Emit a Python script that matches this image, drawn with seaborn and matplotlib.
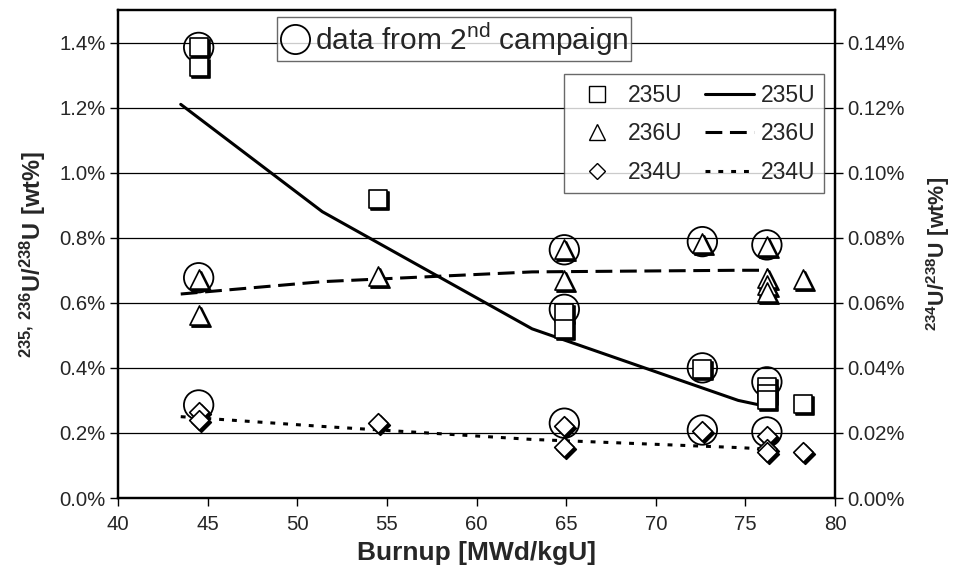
import numpy as np
import pandas as pd
import matplotlib
matplotlib.use("Agg")
import matplotlib.pyplot as plt
import matplotlib.transforms as mtransforms
from matplotlib.lines import Line2D
from matplotlib.ticker import FuncFormatter, MultipleLocator
import seaborn as sns

# ---------------- data ----------------
# 235U measured (left axis, wt%)
bu_235 = [44.5, 44.5, 54.5, 64.9, 64.9, 72.6, 76.2, 76.2, 76.2, 78.2]
u235 = [1.385, 1.325, 0.92, 0.57, 0.52, 0.395, 0.34, 0.32, 0.30, 0.29]
# 236U measured (left axis, wt%)
bu_236 = [44.5, 44.5, 54.5, 64.9, 64.9, 72.6, 76.2, 76.2, 76.2, 76.2, 78.2]
u236 = [0.672, 0.563, 0.683, 0.765, 0.67, 0.785, 0.775, 0.677, 0.655, 0.634, 0.674]
# 234U measured (right axis, wt%)
bu_234 = [44.5, 44.5, 54.5, 64.9, 64.9, 72.6, 76.2, 76.2, 76.2, 78.2]
u234 = [0.0265, 0.024, 0.023, 0.022, 0.0157, 0.0205, 0.019, 0.015, 0.014, 0.014]

# 2nd campaign (circled) points
bu_2nd_235 = [44.5, 64.9, 72.6, 76.2]
u235_2nd = [1.385, 0.58, 0.40, 0.357]
bu_2nd_236 = [44.5, 64.9, 72.6, 76.2]
u236_2nd = [0.677, 0.763, 0.788, 0.778]
bu_2nd_234 = [44.5, 64.9, 72.6, 76.2]
u234_2nd = [0.0286, 0.023, 0.0209, 0.0203]

# calculated curves
bu_calc = [43.5, 51.4, 63.1, 74.6, 76.3]
calc_235 = [1.21, 0.88, 0.52, 0.30, 0.28]
calc_236 = [0.627, 0.665, 0.695, 0.70, 0.70]
calc_234 = [0.025, 0.022, 0.018, 0.0155, 0.015]

# ---------------- style ----------------
sns.set_style("ticks")
plt.rcParams["font.family"] = ["Liberation Sans", "DejaVu Sans"]
plt.rcParams["mathtext.fontset"] = "custom"
plt.rcParams["mathtext.rm"] = "Liberation Sans"
plt.rcParams["mathtext.bf"] = "Liberation Sans:bold"

fig = plt.figure(figsize=(9.54, 5.66), dpi=100)
ax = fig.add_axes([118 / 954, 1 - 498 / 566, (835 - 118) / 954, (498 - 10) / 566])
ax2 = ax.twinx()

# grid
for v in np.arange(0.2, 1.41, 0.2):
    ax.axhline(v, color="black", lw=0.9, zorder=0)

shadow = mtransforms.offset_copy(ax.transData, fig=fig, x=2, y=-2, units="dots")
shadow2 = mtransforms.offset_copy(ax2.transData, fig=fig, x=2, y=-2, units="dots")

# circles (2nd campaign)
for a, xs, ys in [(ax, bu_2nd_235, u235_2nd), (ax, bu_2nd_236, u236_2nd), (ax2, bu_2nd_234, u234_2nd)]:
    sns.scatterplot(x=xs, y=ys, ax=a, marker="o", s=450, facecolor="none",
                    edgecolor="black", linewidth=1.3, zorder=3)

def shadowed(a, tr, xs, ys, marker, s):
    sns.scatterplot(x=xs, y=ys, ax=a, marker=marker, s=s, color="black",
                    edgecolor="black", linewidth=1.2, transform=tr, zorder=4)
    sns.scatterplot(x=xs, y=ys, ax=a, marker=marker, s=s, color="white",
                    edgecolor="black", linewidth=1.2, zorder=5)

shadowed(ax, shadow, bu_235, u235, "s", 180)
shadowed(ax, shadow, bu_236, u236, "^", 190)
shadowed(ax2, shadow2, bu_234, u234, "D", 100)

# curves
sns.lineplot(x=bu_calc, y=calc_235, ax=ax, color="black", lw=2.2, zorder=2)
sns.lineplot(x=bu_calc, y=calc_236, ax=ax, color="black", lw=2.2, zorder=2,
             linestyle=(0, (5.5, 2.5)))
sns.lineplot(x=bu_calc, y=calc_234, ax=ax2, color="black", lw=2.2, zorder=2,
             linestyle=(0, (1.6, 2.6)))

ax.set_xlim(40, 80)
ax.set_ylim(0, 1.5)
ax2.set_ylim(0, 0.15)

# ticks
ax.xaxis.set_major_locator(MultipleLocator(5))
ax.set_yticks(np.arange(0, 1.41, 0.2))
ax2.set_yticks(np.arange(0, 0.141, 0.02))
ax.yaxis.set_major_formatter(FuncFormatter(lambda v, p: f"{v:.1f}%"))
ax2.yaxis.set_major_formatter(FuncFormatter(lambda v, p: f"{v:.2f}%"))
for a in (ax, ax2):
    a.tick_params(direction="out", length=6, width=1, labelsize=14.7, color="black", pad=3)
    for sp in a.spines.values():
        sp.set_color("black")
        sp.set_linewidth(1.6)
ax.tick_params(axis="x", pad=6)

ax.set_xlabel("Burnup [MWd/kgU]", fontsize=19, fontweight="bold", labelpad=5)
ax.set_ylabel(r"$\mathbf{^{235,\,236}U/^{238}U\ [wt\%]}$", fontsize=17, labelpad=8)
ax2.set_ylabel(r"$\mathbf{^{234}U/^{238}U\ [wt\%]}$", fontsize=15.5, labelpad=14)

# legends
h_circ = [Line2D([], [], marker="o", ls="none", mfc="none", mec="black", ms=21, mew=1.3)]
leg1 = ax2.legend(h_circ, [r"data from 2$^{\rm nd}$ campaign"], loc="upper left",
                  bbox_to_anchor=(0.222, 0.985), fontsize=21.5, frameon=True,
                  fancybox=False, edgecolor="#444444", handletextpad=0.15,
                  borderpad=0.1, handlelength=1.0, borderaxespad=0)
leg1.get_frame().set_linewidth(1.0)
ax2.add_artist(leg1)

handles = [
    Line2D([], [], marker="s", ls="none", mfc="white", mec="black", ms=11, mew=1.0),
    Line2D([], [], marker="^", ls="none", mfc="white", mec="black", ms=11, mew=1.0),
    Line2D([], [], marker="D", ls="none", mfc="white", mec="black", ms=8, mew=1.0),
    Line2D([], [], color="black", lw=2.2),
    Line2D([], [], color="black", lw=2.2, linestyle=(0, (5.5, 2.5))),
    Line2D([], [], color="black", lw=2.2, linestyle=(0, (1.6, 2.6))),
]
labels = ["235U", "236U", "234U", "235U", "236U", "234U"]
leg2 = ax2.legend(handles, labels, ncol=2, loc="upper right",
                  bbox_to_anchor=(0.985, 0.868), fontsize=16.5, frameon=True,
                  fancybox=False, edgecolor="#444444", handlelength=2.1,
                  columnspacing=1.0, handletextpad=0.3, labelspacing=0.68,
                  borderaxespad=0, borderpad=0.4)
leg2.get_frame().set_linewidth(1.0)
leg2.set_zorder(10)

fig.savefig("out.png", dpi=100)
